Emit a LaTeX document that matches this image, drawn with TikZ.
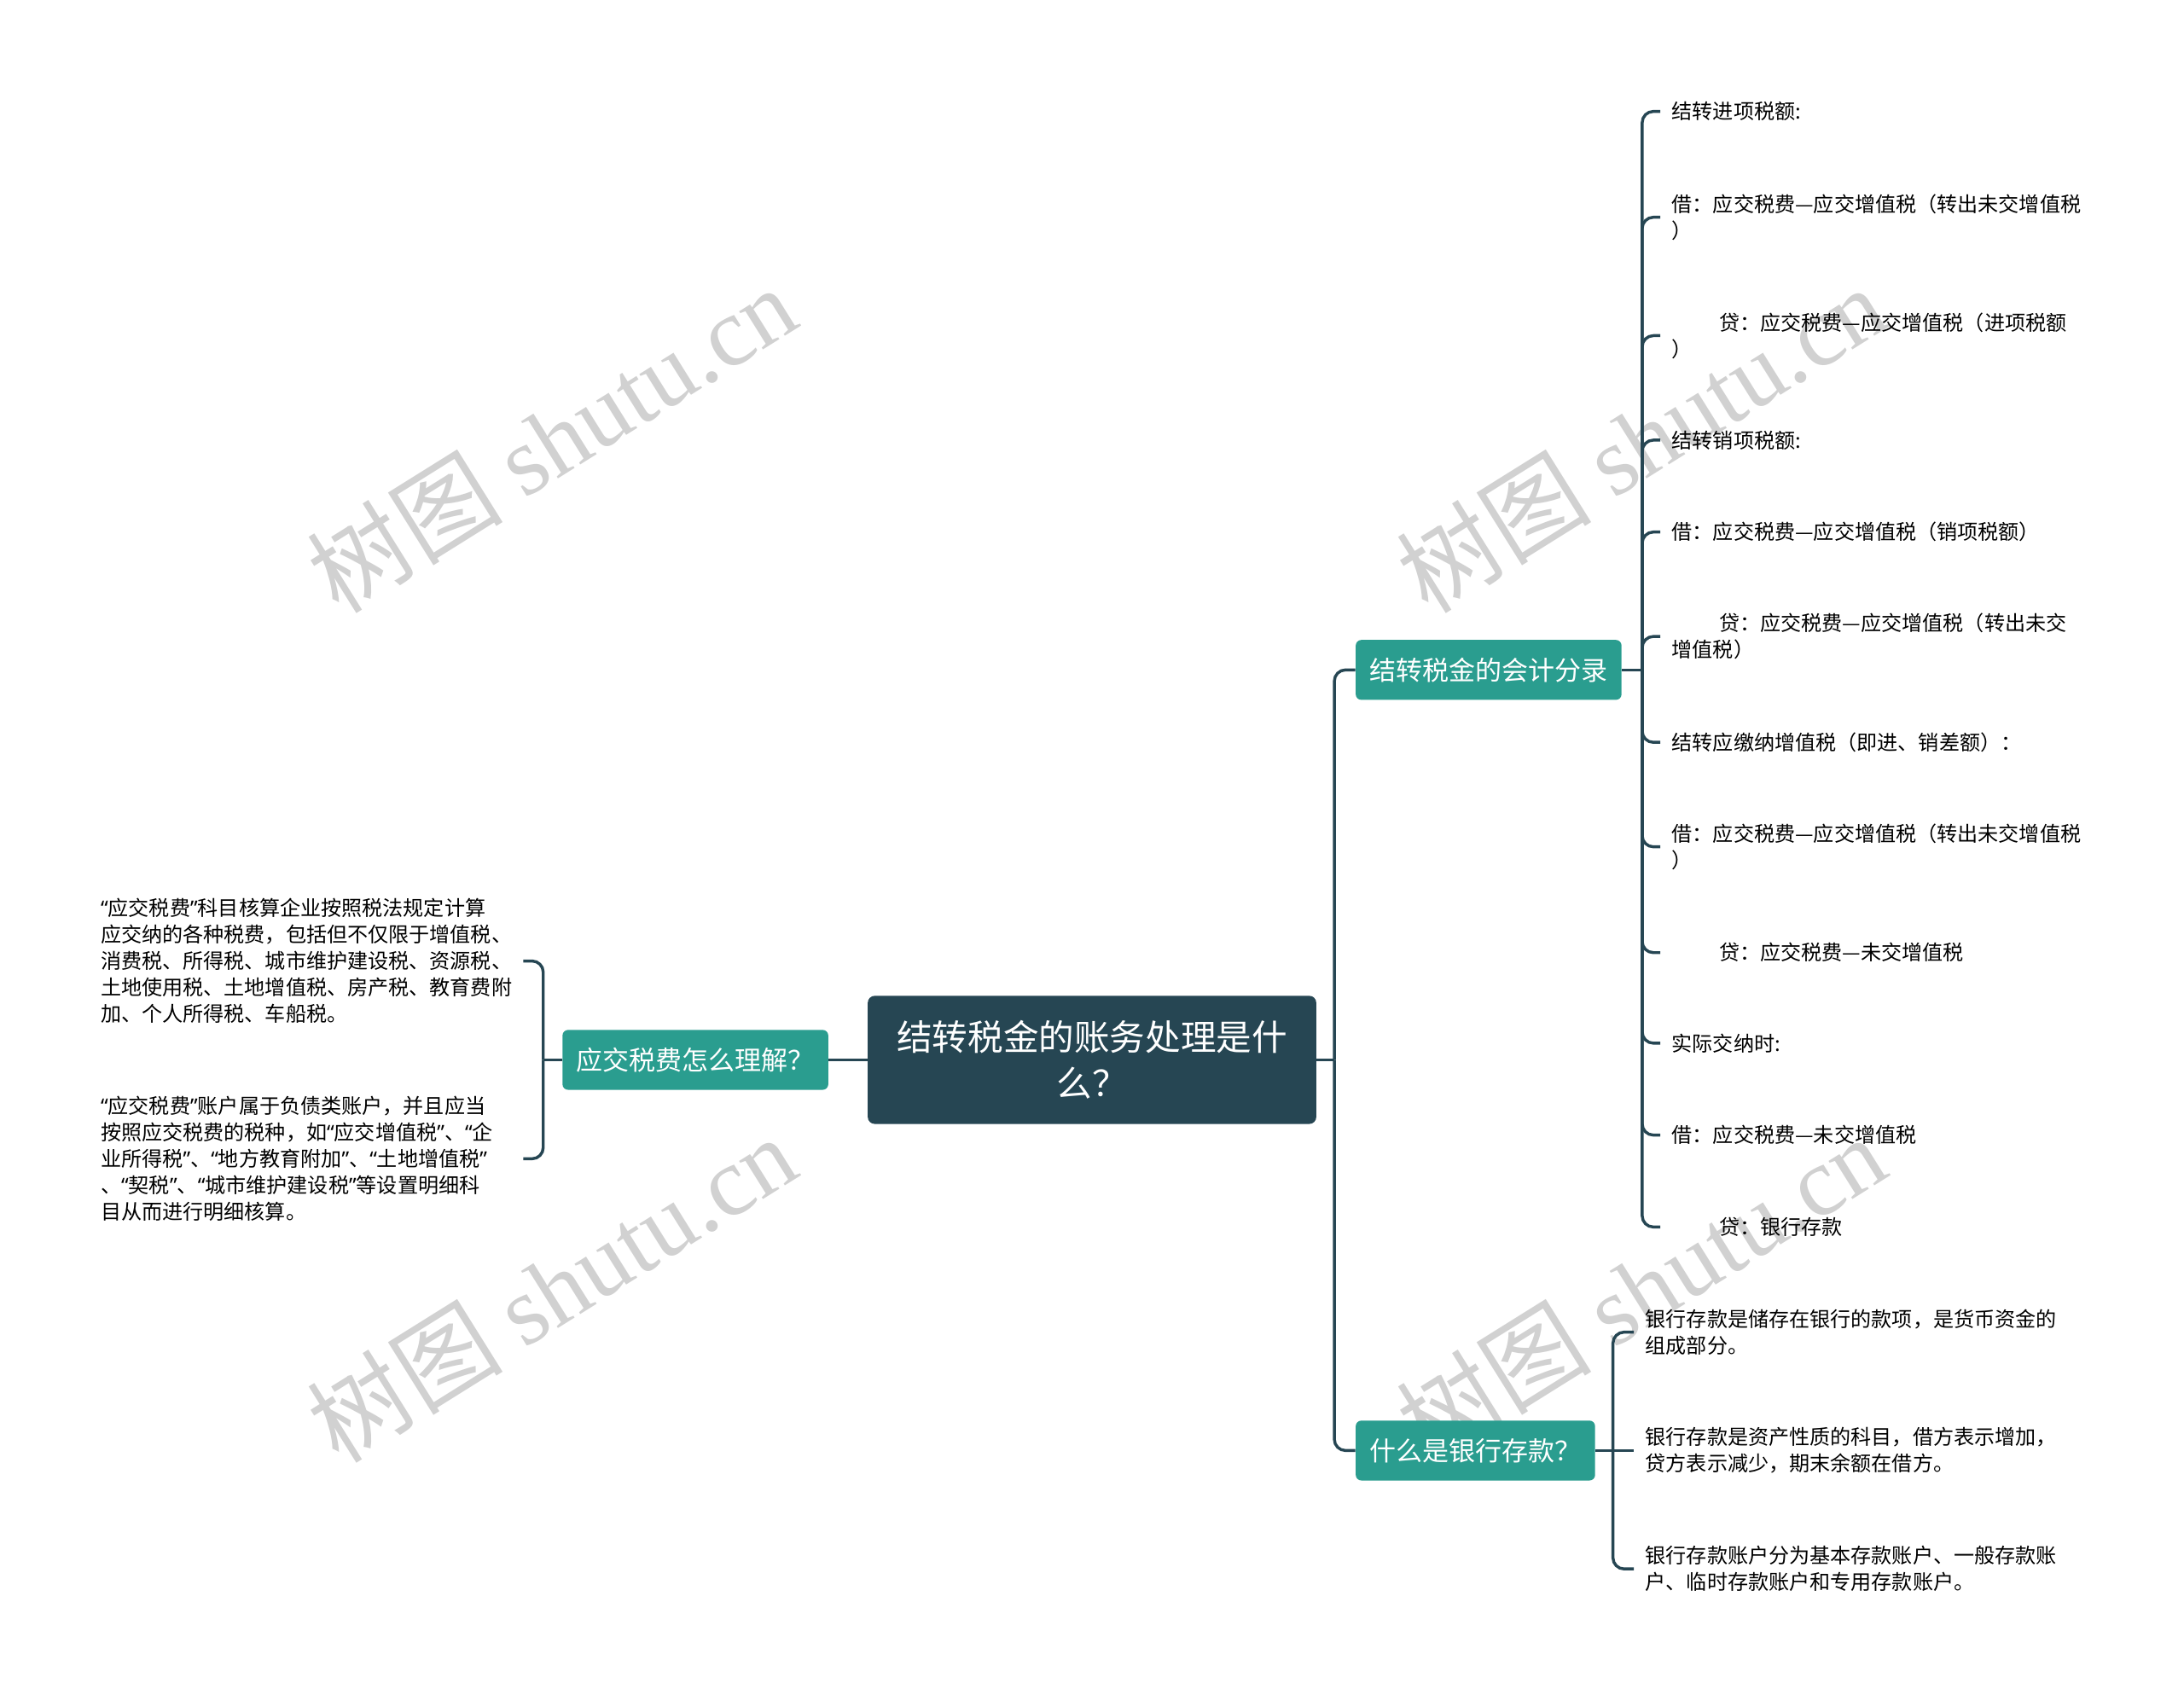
\documentclass[tikz,border=0pt]{standalone}
\usepackage{fontspec}
\setmainfont{Noto Sans CJK SC}
\newfontfamily\wmfont{Liberation Serif}
\newfontfamily\latinfont{Noto Sans}
\newcommand\openq{{\latinfont “}}
\newcommand\closeq{{\latinfont ”}}
\usetikzlibrary{calc}
\definecolor{rootc}{HTML}{264653}
\definecolor{branchc}{HTML}{2A9D8F}

\begin{document}
\begin{tikzpicture}[x=0.2mm, y=-0.2mm,
	link/.style={draw=rootc, line width=1.2pt, rounded corners=1.6mm},
	root/.style={fill=rootc, text=white, rounded corners=1mm, minimum width=64.4mm,
		minimum height=18.4mm, align=center, font=\fontsize{14.5}{18.8}\selectfont},
	branch/.style={fill=branchc, text=white, rounded corners=0.8mm, minimum height=8.6mm,
		inner xsep=2mm, font=\fontsize{10.8}{13}\selectfont},
	leaf/.style={inner xsep=1.6mm, inner ysep=0.5mm, align=left, font=\fontsize{8.4}{10.8}\selectfont},
	wm/.style={text=black!18, font=\fontsize{40}{44}\selectfont, rotate=32}]
	\fill[white] (0,0) rectangle (1568,1217);
	\useasboundingbox (0,0) rectangle (1568,1217);
	% watermark
	\foreach \p [count=\i] in {(396,315),(1178,315),(396,925),(1178,925)}
		\node[wm] (w\i) at \p {树图 {\wmfont shutu.cn}};
	\coordinate (jl) at (390,761); \coordinate (jr) at (958,761);
	\coordinate (j1) at (1179,481); \coordinate (j2) at (1158,1041.5);
	\node[root] (root) at (784,761) {结转税金的账务处理是什\\么？};
	\node[branch, anchor=east] (b0) at (595,761) {应交税费怎么理解？};
	\node[branch, anchor=west] (b1) at (973,481) {结转税金的会计分录};
	\node[branch, anchor=west] (b2) at (973,1041.5) {什么是银行存款？};
	% left leaves
	\node[leaf, anchor=west, text width=59mm] (l1) at (64,690) {\openq 应交税费\closeq 科目核算企业按照税法规定计算\\应交纳的各种税费，包括但不仅限于增值税、\\消费税、所得税、城市维护建设税、资源税、\\土地使用税、土地增值税、房产税、教育费附\\加、个人所得税、车船税。};
	\node[leaf, anchor=west, text width=59mm] (l2) at (64,832) {\openq 应交税费\closeq 账户属于负债类账户，并且应当\\按照应交税费的税种，如\openq 应交增值税\closeq 、\openq 企\\业所得税\closeq 、\openq 地方教育附加\closeq 、\openq 土地增值税\closeq\\、\openq 契税\closeq 、\openq 城市维护建设税\closeq 等设置明细科\\目从而进行明细核算。};
	% entries
	\node[leaf, anchor=west] (r1) at (1192,80) {结转进项税额:};
	\node[leaf, anchor=west] (r2) at (1192,156) {借：应交税费—应交增值税（转出未交增值税\\）};
	\node[leaf, anchor=west] (r3) at (1192,241) {\hspace*{6.8mm}贷：应交税费—应交增值税（进项税额\\）};
	\node[leaf, anchor=west] (r4) at (1192,316) {结转销项税额:};
	\node[leaf, anchor=west] (r5) at (1192,382) {借：应交税费—应交增值税（销项税额）};
	\node[leaf, anchor=west] (r6) at (1192,457) {\hspace*{6.8mm}贷：应交税费—应交增值税（转出未交\\增值税）};
	\node[leaf, anchor=west] (r7) at (1192,533) {结转应缴纳增值税（即进、销差额）：};
	\node[leaf, anchor=west] (r8) at (1192,608) {借：应交税费—应交增值税（转出未交增值税\\）};
	\node[leaf, anchor=west] (r9) at (1192,684) {\hspace*{6.8mm}贷：应交税费—未交增值税};
	\node[leaf, anchor=west] (r10) at (1192,749) {实际交纳时:};
	\node[leaf, anchor=west] (r11) at (1192,815) {借：应交税费—未交增值税};
	\node[leaf, anchor=west] (r12) at (1192,881) {\hspace*{6.8mm}贷：银行存款};
	% bank deposits
	\node[leaf, anchor=west] (k1) at (1173,956.5) {银行存款是储存在银行的款项，是货币资金的\\组成部分。};
	\node[leaf, anchor=west] (k2) at (1173,1041.5) {银行存款是资产性质的科目，借方表示增加，\\贷方表示减少，期末余额在借方。};
	\node[leaf, anchor=west] (k3) at (1173,1126.5) {银行存款账户分为基本存款账户、一般存款账\\户、临时存款账户和专用存款账户。};
	% connectors
	\draw[link] (root.west) -- (b0.east);
	\draw[link] (b0.west) -- (jl);
	\draw[link] (jl) |- (l1.east); \draw[link] (jl) |- (l2.east);
	\draw[link] (root.east) -- (jr);
	\draw[link] (jr) |- (b1.west); \draw[link] (jr) |- (b2.west);
	\draw[link] (b1.east) -- (j1);
	\foreach \i in {1,...,12} \draw[link] (j1) |- (r\i.west);
	\draw[link] (b2.east) -- (j2);
	\draw[link] (j2) |- (k1.west); \draw[link] (j2) -- (k2.west); \draw[link] (j2) |- (k3.west);
\end{tikzpicture}
\end{document}
